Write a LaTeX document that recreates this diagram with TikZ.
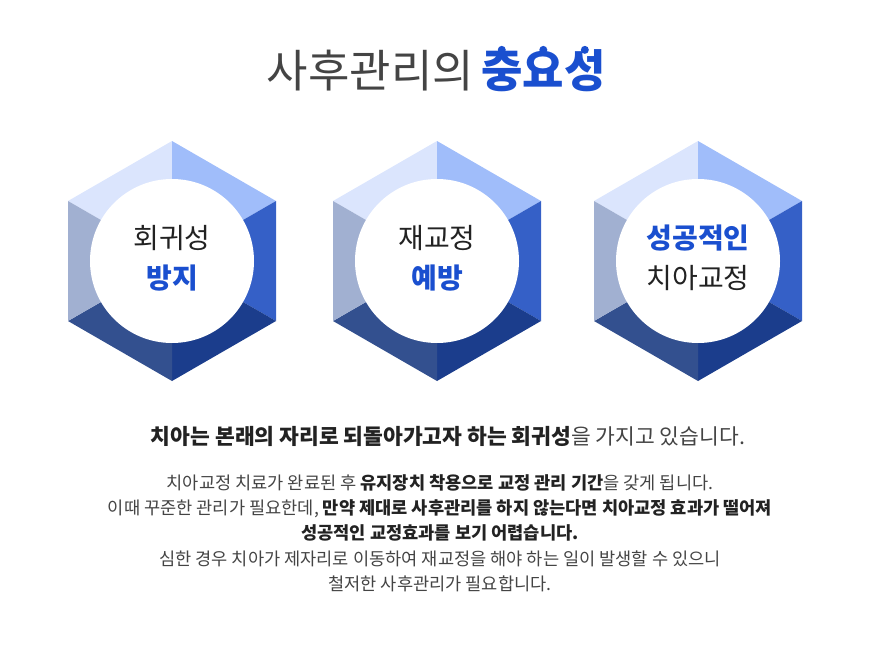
\documentclass[tikz,border=0pt]{standalone}
\usepackage{fontspec}
\usetikzlibrary{calc}
\setmainfont{Noto Sans CJK KR}
\definecolor{tl}{HTML}{DBE5FD}
\definecolor{tr}{HTML}{A0BDFA}
\definecolor{rr}{HTML}{3560C7}
\definecolor{br}{HTML}{1B3D8C}
\definecolor{bl}{HTML}{33508F}
\definecolor{ll}{HTML}{A1B0D1}
\definecolor{accent}{HTML}{1A4FCF}
\definecolor{ink}{HTML}{222222}
\definecolor{soft}{HTML}{444444}
\tikzset{
  hexlabel/.style={align=center,font=\fontsize{28}{40}\selectfont,text=ink},
  bodytext/.style={font=\fontsize{17.6}{25}\selectfont,text=soft,anchor=base},
}
\newcommand{\hexagon}[2]{%
  \begin{scope}[shift={#1}]
    \fill[tl] (0,0) -- (0,-120) -- (-104,-60) -- cycle;
    \fill[tr] (0,0) -- (0,-120) -- (104,-60) -- cycle;
    \fill[rr] (0,0) -- (104,-60) -- (104,60) -- cycle;
    \fill[br] (0,0) -- (104,60) -- (0,120) -- cycle;
    \fill[bl] (0,0) -- (0,120) -- (-104,60) -- cycle;
    \fill[ll] (0,0) -- (-104,60) -- (-104,-60) -- cycle;
    \fill[white] (0,0) circle (82);
    \node[hexlabel] at (0,-3) {#2};
  \end{scope}}
\begin{document}
\begin{tikzpicture}[x=1pt,y=-1pt]
\useasboundingbox (0,0) rectangle (880,650);
\node[anchor=base east,inner sep=0,font=\fontsize{45}{48}\selectfont,text=soft] (titleA) at (474,88) {사후관리의};
\node[anchor=base west,inner sep=0,font=\fontsize{45}{48}\selectfont\bfseries,text=accent] (titleB) at (481,88) {중요성};
\path (titleB.north west) coordinate (nw) (titleB.north east) coordinate (ne);
\foreach \f in {0.1667,0.5,0.8333} \fill[accent] ($(nw)!\f!(ne)$ |- 0,35) circle (4);
\hexagon{(172,261)}{회귀성\\\textcolor{accent}{\bfseries 방지}}
\hexagon{(437,261)}{재교정\\\textcolor{accent}{\bfseries 예방}}
\hexagon{(698,261)}{\textcolor{accent}{\bfseries 성공적인}\\치아교정}
\node[anchor=base,font=\fontsize{21.5}{24}\selectfont,text=ink] (l0) at (448,444) {\bfseries 치아는 본래의 자리로 되돌아가고자 하는 회귀성\mdseries\color{soft} 을 가지고 있습니다.};
\node[bodytext] (l1) at (440,489) {치아교정 치료가 완료된 후 \textbf{\color{ink}유지장치 착용으로 교정 관리 기간}을 갖게 됩니다.};
\node[bodytext] (l2) at (440,514) {이때 꾸준한 관리가 필요한데, \textbf{\color{ink}만약 제대로 사후관리를 하지 않는다면 치아교정 효과가 떨어져}};
\node[bodytext] (l3) at (440,539) {\textbf{\color{ink}성공적인 교정효과를 보기 어렵습니다.}};
\node[bodytext] (l4) at (440,565) {심한 경우 치아가 제자리로 이동하여 재교정을 해야 하는 일이 발생할 수 있으니};
\node[bodytext] (l5) at (440,590) {철저한 사후관리가 필요합니다.};
\end{tikzpicture}
\end{document}
